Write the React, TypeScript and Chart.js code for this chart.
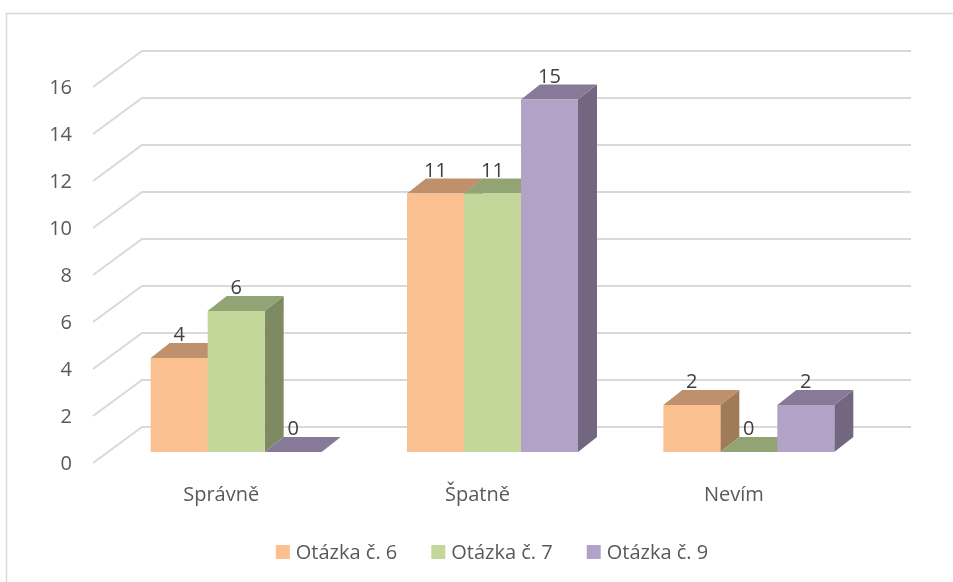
import React, { useEffect, useRef } from "react";
import { Chart, registerables } from "chart.js";

Chart.register(...registerables);

const categories = ["Správně", "Špatně", "Nevím"];
const seriesNames = ["Otázka č. 6", "Otázka č. 7", "Otázka č. 9"];
const otazka6 = [4, 11, 2];
const otazka7 = [6, 11, 0];
const otazka9 = [0, 15, 2];
const yTicks = [0, 2, 4, 6, 8, 10, 12, 14, 16];

const frontColors = ["#FAC090", "#C4D79B", "#B3A2C7"];
const topColors = ["#BF906C", "#93A474", "#877A99"];
const sideColors = ["#A07B58", "#7E8A62", "#73667F"];

const FONT = '20px "Open Sans", sans-serif';
const TEXT = "#595959";
const LABEL = "#404040";
const GRID = "#D9D9D9";
const DEPTH = { dx: 19, dy: -15 };
const FRONT = { dx: -15, dy: 11 };
const BACK = { dx: 34, dy: -25 };

const threeD = {
  id: "threeD",
  beforeDatasetsDraw(chart: any) {
    const ctx = chart.ctx;
    const xs = chart.scales.x;
    const ys = chart.scales.y;
    const area = chart.chartArea;
    ctx.save();
    // outer border
    ctx.strokeStyle = GRID;
    ctx.lineWidth = 1.5;
    ctx.beginPath();
    ctx.moveTo(953, 13.5);
    ctx.lineTo(6.5, 13.5);
    ctx.lineTo(6.5, 582);
    ctx.stroke();
    // gridlines
    ctx.lineWidth = 2;
    yTicks.forEach((v) => {
      const py = ys.getPixelForValue(v);
      ctx.beginPath();
      ctx.moveTo(area.left + FRONT.dx, py + FRONT.dy);
      ctx.lineTo(area.left + BACK.dx, py + BACK.dy);
      ctx.lineTo(area.right + BACK.dx, py + BACK.dy);
      ctx.stroke();
    });
    // y labels
    ctx.font = FONT;
    ctx.fillStyle = TEXT;
    ctx.textAlign = "right";
    ctx.textBaseline = "middle";
    yTicks.forEach((v) => {
      const py = ys.getPixelForValue(v);
      ctx.fillText(String(v), 72, py + FRONT.dy + 1);
    });
    // x labels
    ctx.textAlign = "center";
    categories.forEach((c, i) => {
      ctx.fillText(c, xs.getPixelForValue(i) + FRONT.dx, 495);
    });
    // tops and sides
    chart.data.datasets.forEach((ds: any, di: number) => {
      const meta = chart.getDatasetMeta(di);
      meta.data.forEach((bar: any) => {
        const p = bar.getProps(["x", "y", "base", "width"], true);
        const l = p.x - p.width / 2;
        const r = p.x + p.width / 2;
        const top = p.y;
        const base = p.base;
        ctx.fillStyle = sideColors[di];
        ctx.beginPath();
        ctx.moveTo(r, top);
        ctx.lineTo(r + DEPTH.dx, top + DEPTH.dy);
        ctx.lineTo(r + DEPTH.dx, base + DEPTH.dy);
        ctx.lineTo(r, base);
        ctx.closePath();
        ctx.fill();
        ctx.fillStyle = topColors[di];
        ctx.beginPath();
        ctx.moveTo(l, top);
        ctx.lineTo(l + DEPTH.dx, top + DEPTH.dy);
        ctx.lineTo(r + DEPTH.dx, top + DEPTH.dy);
        ctx.lineTo(r, top);
        ctx.closePath();
        ctx.fill();
      });
    });
    ctx.restore();
  },
  afterDatasetsDraw(chart: any) {
    const ctx = chart.ctx;
    ctx.save();
    ctx.font = FONT;
    ctx.fillStyle = LABEL;
    ctx.textAlign = "center";
    ctx.textBaseline = "alphabetic";
    chart.data.datasets.forEach((ds: any, di: number) => {
      const meta = chart.getDatasetMeta(di);
      meta.data.forEach((bar: any, i: number) => {
        const p = bar.getProps(["x", "y"], true);
        ctx.fillText(String(ds.data[i]), p.x, p.y + DEPTH.dy - 2);
      });
    });
    // legend
    const box = 14;
    const gapText = 6;
    const gapItem = 34;
    const widths = seriesNames.map((n) => box + gapText + ctx.measureText(n).width);
    const total = widths.reduce((a, b) => a + b, 0) + gapItem * (widths.length - 1);
    let x = 492 - total / 2;
    const cy = 552;
    ctx.textAlign = "left";
    ctx.textBaseline = "middle";
    seriesNames.forEach((n, i) => {
      ctx.fillStyle = frontColors[i];
      ctx.fillRect(x, cy - box / 2, box, box);
      ctx.fillStyle = TEXT;
      ctx.fillText(n, x + box + gapText, cy + 1);
      x += widths[i] + gapItem;
    });
    ctx.restore();
  },
};

export default function App() {
  const ref = useRef<HTMLCanvasElement | null>(null);
  useEffect(() => {
    if (!ref.current) return;
    const chart = new Chart(ref.current, {
      type: "bar",
      data: {
        labels: categories,
        datasets: [
          { label: seriesNames[0], data: otazka6, backgroundColor: frontColors[0], borderWidth: 0 },
          { label: seriesNames[1], data: otazka7, backgroundColor: frontColors[1], borderWidth: 0 },
          { label: seriesNames[2], data: otazka9, backgroundColor: frontColors[2], borderWidth: 0 },
        ],
      },
      options: {
        responsive: false,
        animation: false,
        layout: { padding: { left: 108, right: 76, top: 76, bottom: 130 } },
        datasets: { bar: { categoryPercentage: 0.667, barPercentage: 1.0 } },
        scales: {
          x: { display: false, offset: true, grid: { display: false } },
          y: { display: false, min: 0, max: 16 },
        },
        plugins: { legend: { display: false }, tooltip: { enabled: false } },
      },
      plugins: [threeD],
    });
    return () => chart.destroy();
  }, []);
  return (
    <div style={{ position: "fixed", left: 0, top: 0, width: 953, height: 582, background: "#fff" }}>
      <canvas ref={ref} width={953} height={582} style={{ display: "block" }} />
    </div>
  );
}
